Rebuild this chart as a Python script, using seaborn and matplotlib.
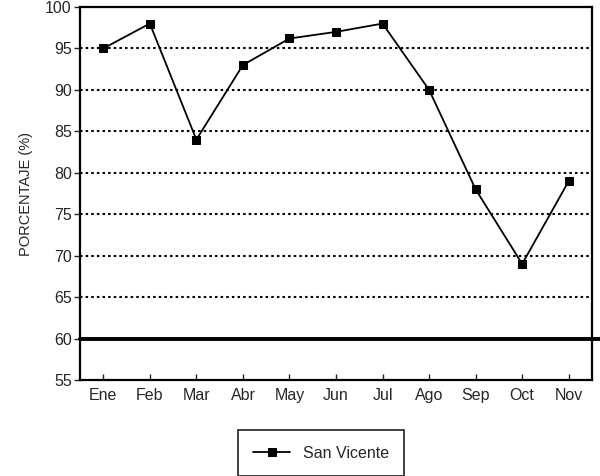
import matplotlib
matplotlib.use("Agg")
import matplotlib.pyplot as plt
import seaborn as sns
import pandas as pd

meses = ["Ene", "Feb", "Mar", "Abr", "May", "Jun", "Jul", "Ago", "Sep", "Oct", "Nov"]
san_vicente = [95, 98, 84, 93, 96.2, 97, 98, 90, 78, 69, 79]
y_ticks = [55, 60, 65, 70, 75, 80, 85, 90, 95, 100]
umbral = 60

sns.set_theme(style="white")
plt.rcParams['font.family'] = ['Liberation Sans', 'DejaVu Sans']

df = pd.DataFrame({"mes": meses, "pct": san_vicente, "serie": "San Vicente"})

fig = plt.figure(figsize=(6, 4.76), dpi=100)
ax = fig.add_axes([80/600, 1-380/476, (592-80)/600, (380-7)/476])

for yv in y_ticks[2:-1]:
    ax.axhline(yv, color="black", lw=1.5, ls=(0, (1.2, 1.5)), zorder=1)
ax.axhline(umbral, color="black", lw=2.8, zorder=2, xmin=0, xmax=1.02, clip_on=False)

sns.lineplot(data=df, x="mes", y="pct", hue="serie", palette=["black"],
             marker="s", markersize=6, markeredgecolor="black", lw=1.3,
             sort=False, ax=ax, zorder=3)

ax.set_xlim(-0.5, len(meses) - 0.5)
ax.set_ylim(55, 100)
ax.set_yticks(y_ticks)
ax.set_yticklabels([str(v) for v in y_ticks], fontsize=11.5)
ax.set_xticks(range(len(meses)))
ax.set_xticklabels(meses, fontsize=11.5)
ax.set_xlabel("")
ax.set_ylabel("PORCENTAJE (%)", fontsize=10.5, labelpad=9)
ax.tick_params(axis="x", direction="in", length=4, width=1, pad=6, bottom=True)
ax.tick_params(axis="y", direction="out", length=4, width=1, pad=2, left=True)
for s in ax.spines.values():
    s.set_color("black")
    s.set_linewidth(1.6)

ax.legend(loc="center", bbox_to_anchor=(321/600, 1-453/476), bbox_transform=fig.transFigure,
          frameon=True, fancybox=False, edgecolor="black", fontsize=11.5,
          handlelength=2.3, borderpad=0.95, borderaxespad=0, title=None)
leg = ax.get_legend()
leg.get_frame().set_linewidth(1.3)

fig.savefig("out.png", dpi=100)
